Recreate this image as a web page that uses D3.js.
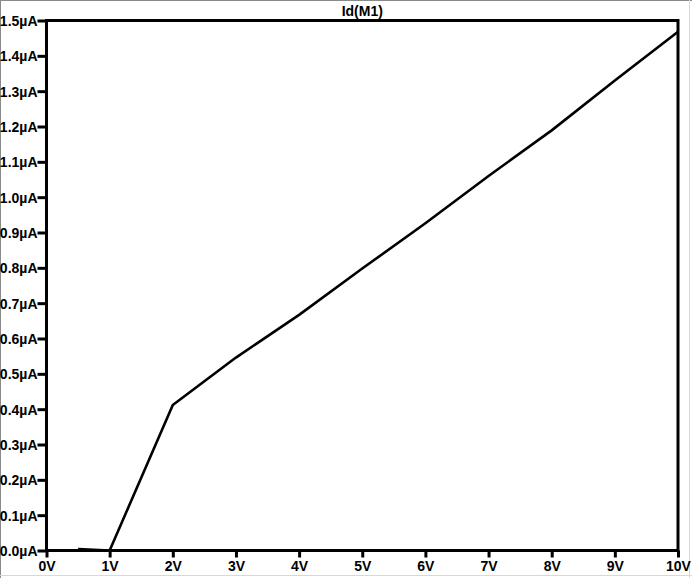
<!DOCTYPE html>
<html>
<head>
<meta charset="utf-8">
<script src="https://cdn.jsdelivr.net/npm/d3@7"></script>
<style>
  html, body { margin: 0; padding: 0; background: #fff; }
  svg { display: block; }
  text { font-family: "Liberation Sans", Arial, sans-serif; font-weight: bold; font-size: 14px; fill: #000; }
</style>
</head>
<body>
<svg id="chart" width="692" height="578"></svg>
<script>
// Data: drain current Id(M1) vs sweep voltage
const voltages = [0.5, 1, 2, 3, 4, 5, 6, 7, 8, 9, 10];
const currents = [0.004, 0, 0.412, 0.546, 0.667, 0.798, 0.926, 1.060, 1.189, 1.330, 1.468]; // µA
const xTicks = [0, 1, 2, 3, 4, 5, 6, 7, 8, 9, 10];
const yTicks = [0, 0.1, 0.2, 0.3, 0.4, 0.5, 0.6, 0.7, 0.8, 0.9, 1.0, 1.1, 1.2, 1.3, 1.4, 1.5];
const title = "Id(M1)";

const svg = d3.select("#chart");
const W = 692, H = 578;
const mLeft = 46.5, mRight = 678, mTop = 20.5, mBottom = 550.5;

// window border
svg.append("line").attr("x1", 0.5).attr("y1", 0).attr("x2", 0.5).attr("y2", H).attr("stroke", "#8a8a8a");
svg.append("line").attr("x1", 0).attr("y1", 0.5).attr("x2", W).attr("y2", 0.5).attr("stroke", "#8a8a8a");
svg.append("line").attr("x1", 689.5).attr("y1", 0).attr("x2", 689.5).attr("y2", H).attr("stroke", "#d8d8d8");
svg.append("line").attr("x1", 0).attr("y1", 575.5).attr("x2", W).attr("y2", 575.5).attr("stroke", "#d8d8d8");

const x = d3.scaleLinear().domain([0, 10]).range([mLeft, mRight]);
const y = d3.scaleLinear().domain([0, 1.5]).range([mBottom, mTop]);

// x axis
const xAxis = d3.axisBottom(x).tickValues(xTicks).tickSize(7).tickPadding(3)
  .tickFormat(d => d + "V");
const gx = svg.append("g").attr("transform", `translate(0,${mBottom})`).call(xAxis);
gx.select(".domain").remove();
gx.selectAll(".tick line").attr("stroke", "#000").attr("stroke-width", 3);
gx.selectAll(".tick text").attr("dy", null).attr("y", 20.5);

// y axis
const yAxis = d3.axisLeft(y).tickValues(yTicks).tickSize(9).tickPadding(0)
  .tickFormat(d => d.toFixed(1) + "µA");
const gy = svg.append("g").attr("transform", `translate(${mLeft},0)`).call(yAxis);
gy.select(".domain").remove();
gy.selectAll(".tick line").attr("stroke", "#000").attr("stroke-width", 3);
gy.selectAll(".tick text").attr("dy", "0.36em");
gx.attr("font-family", null).attr("font-size", null);
gy.attr("font-family", null).attr("font-size", null);

// frame
svg.append("rect")
  .attr("x", mLeft).attr("y", mTop)
  .attr("width", mRight - mLeft).attr("height", mBottom - mTop)
  .attr("fill", "none").attr("stroke", "#000").attr("stroke-width", 3);

// title
svg.append("text").attr("x", (mLeft + mRight) / 2).attr("y", 15.5)
  .attr("text-anchor", "middle").text(title);

// curve
const pts = voltages.map((v, i) => [v, currents[i]]);
const line = d3.line().x(d => x(d[0])).y(d => y(d[1]));
svg.append("path").datum(pts)
  .attr("d", line)
  .attr("fill", "none").attr("stroke", "#000").attr("stroke-width", 2.6)
  .attr("stroke-linejoin", "round");
</script>
</body>
</html>
